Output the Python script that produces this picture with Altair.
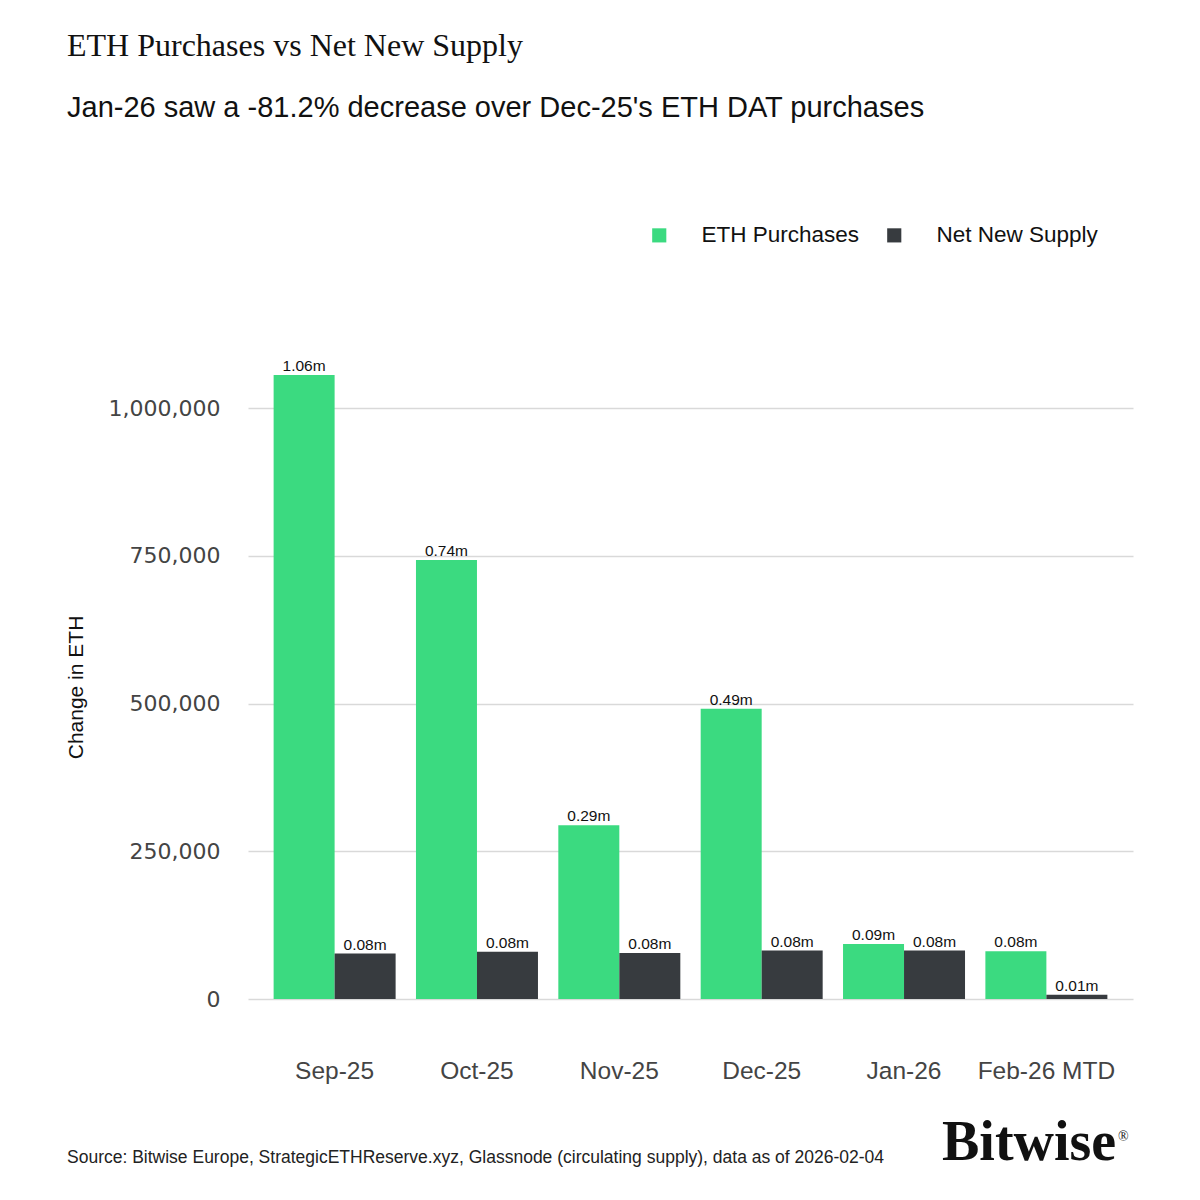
import altair as alt
import pandas as pd

months = ["Sep-25", "Oct-25", "Nov-25", "Dec-25", "Jan-26", "Feb-26 MTD"]
eth_purchases = [1056000, 743000, 294000, 491000, 93000, 81000]
net_new_supply = [77000, 80000, 78000, 82000, 82000, 7000]
series_names = ["ETH Purchases", "Net New Supply"]
series_colors = ["#3BDA80", "#373B3F"]
y_ticks = [0, 250000, 500000, 750000, 1000000]

rows = []
for m, a, b in zip(months, eth_purchases, net_new_supply):
    rows.append({"month": m, "series": series_names[0], "value": a, "label": f"{a/1e6:.2f}m"})
    rows.append({"month": m, "series": series_names[1], "value": b, "label": f"{b/1e6:.2f}m"})
df = pd.DataFrame(rows)

W, H = 885, 650

x_enc = alt.X("month:N", sort=months, title=None,
              scale=alt.Scale(paddingInner=0.143, paddingOuter=0.18),
              axis=alt.Axis(labelAngle=0, labelFontSize=24.5, labelColor="#444444",
                            labelFont="Liberation Sans", ticks=False, domain=False,
                            labelPadding=72, labelBaseline="middle"))
y_enc = alt.Y("value:Q", title="Change in ETH",
              scale=alt.Scale(domain=[0, 1100000], nice=False),
              axis=alt.Axis(values=y_ticks, format=",.0f", labelFontSize=22, labelColor="#444444",
                            labelFont="DejaVu Sans", ticks=False, domain=False,
                            labelPadding=28, gridColor="#D9D9D9", gridWidth=1.5,
                            titleFontSize=21, titleColor="#111111", titleFont="Liberation Sans",
                            titleFontWeight="normal", titleX=-172, titleY=338,
                            titleAngle=-90, titleAlign="center", titleBaseline="middle"))
color_enc = alt.Color("series:N", sort=series_names,
                      scale=alt.Scale(domain=series_names, range=series_colors),
                      legend=alt.Legend(title=None, orient="none", direction="horizontal",
                                        legendX=400, legendY=-125, symbolType="square",
                                        symbolSize=200, symbolStrokeWidth=0,
                                        labelFontSize=22.5, labelColor="#111111",
                                        labelFont="Liberation Sans", labelOffset=31,
                                        labelLimit=400, columnPadding=23, symbolOpacity=1))

bars = alt.Chart(df).mark_bar(opacity=1).encode(
    x=x_enc, y=y_enc, color=color_enc,
    xOffset=alt.XOffset("series:N", sort=series_names),
)
labels = alt.Chart(df).mark_text(dy=-1, fontSize=15.5, font="Liberation Sans", color="#111111",
                                  baseline="bottom").encode(
    x=x_enc, y=y_enc,
    xOffset=alt.XOffset("series:N", sort=series_names), text="label:N",
)

notes = pd.DataFrame({"t": ["Source: Bitwise Europe, StrategicETHReserve.xyz, Glassnode (circulating supply), data as of 2026-02-04"]})
source = alt.Chart(notes).mark_text(align="left", baseline="alphabetic", fontSize=17.5,
                                    font="Liberation Sans", color="#222222").encode(
    x=alt.value(-181), y=alt.value(814), text="t:N")
logo_df = pd.DataFrame({"t": ["Bitwise"]})
logo = alt.Chart(logo_df).mark_text(align="left", baseline="alphabetic", fontSize=56,
                                    font="Liberation Serif", fontWeight="bold", color="#111111").encode(
    x=alt.value(694), y=alt.value(811), text="t:N")
reg = alt.Chart(pd.DataFrame({"t": ["®"]})).mark_text(align="left", baseline="alphabetic", fontSize=14,
                                    font="Liberation Serif", color="#111111").encode(
    x=alt.value(870), y=alt.value(792), text="t:N")

chart = alt.layer(bars, labels, source, logo, reg).properties(
    width=W, height=H,
    background="white",
    autosize=alt.AutoSizeParams(type="none"),
    padding={"left": 240, "top": 341, "right": 59, "bottom": 190},
    title=alt.TitleParams(
        text="ETH Purchases vs Net New Supply",
        subtitle="Jan-26 saw a -81.2% decrease over Dec-25's ETH DAT purchases",
        anchor="start", frame="group", dx=-181, offset=100,
        font="Liberation Serif", fontSize=32, fontWeight="normal", color="#111111",
        subtitleFont="Liberation Sans", subtitleFontSize=29, subtitleColor="#111111",
        subtitlePadding=31,
    ),
).configure_view(stroke="transparent", strokeWidth=0)

chart.save("out.html", embed_options={"renderer": "svg", "actions": False})
